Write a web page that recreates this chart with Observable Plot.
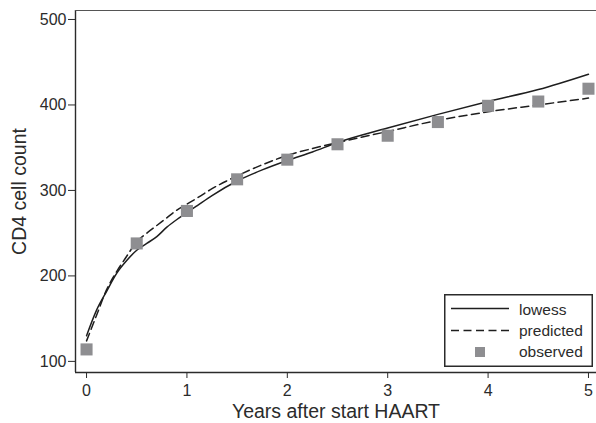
<!DOCTYPE html>
<html><head><meta charset="utf-8">
<script src="https://cdn.jsdelivr.net/npm/d3@7"></script>
<script src="https://cdn.jsdelivr.net/npm/@observablehq/plot@0.6"></script>
<style>
body{margin:0;background:#fff;}
#wrap{position:relative;width:596px;height:423px;overflow:hidden;}
#legend{position:absolute;left:444px;top:294px;}
</style></head><body><div id="wrap"></div>
<script>
// observed means
const obsYears = [0, 0.5, 1, 1.5, 2, 2.5, 3, 3.5, 4, 4.5, 5];
const obsValues = [114, 238, 276, 313, 336, 354, 364, 380, 399, 404, 419];
// lowess curve
const lowessYears  = [0, 0.1, 0.2, 0.3, 0.4, 0.5, 0.6, 0.7, 0.8, 0.9, 1.0, 1.1, 1.25, 1.5, 1.75, 2.0, 2.25, 2.5, 3.0, 3.5, 4.0, 4.5, 5.0];
const lowessValues = [130, 160, 182, 203, 218, 230, 238, 246, 257, 266, 274, 282, 294, 311, 324, 335, 345, 356, 373, 389, 404, 418, 436];
// predicted curve
const predYears  = [0, 0.1, 0.2, 0.3, 0.4, 0.5, 0.6, 0.7, 0.8, 0.9, 1.0, 1.1, 1.25, 1.5, 1.75, 2.0, 2.25, 2.5, 3.0, 3.5, 4.0, 4.5, 5.0];
const predValues = [124, 154, 184, 205, 223, 240, 250, 259, 268, 277, 284, 291, 302, 317, 330, 341, 349, 356, 369, 382, 392, 400, 408];
const xTicks = [0, 1, 2, 3, 4, 5];
const yTicks = [100, 200, 300, 400, 500];
const xDomain = [-0.11, 5.08];
const yDomain = [87, 510.5];
const xLabel = "Years after start HAART";
const yLabel = "CD4 cell count";
const legendItems = ["lowess", "predicted", "observed"];

const obs = obsYears.map((t, i) => ({t, v: obsValues[i]}));
const low = lowessYears.map((t, i) => ({t, v: lowessValues[i]}));
const pred = predYears.map((t, i) => ({t, v: predValues[i]}));

const ink = "#2b2b2b";
const font = "'Liberation Sans', Arial, sans-serif";

const chart = Plot.plot({
  width: 596, height: 423,
  marginLeft: 75, marginRight: 0, marginTop: 10, marginBottom: 51,
  style: {fontFamily: font, background: "#fff", color: ink},
  x: {domain: xDomain, ticks: xTicks},
  y: {domain: yDomain, ticks: yTicks},
  marks: [
    Plot.axisX({ticks: xTicks, tickFormat: d3.format("d"), tickSize: 6, tickPadding: 6, fontSize: 16, label: null, stroke: ink}),
    Plot.axisY({ticks: yTicks, tickFormat: d3.format("d"), tickSize: 7, tickPadding: 2, fontSize: 16, label: null, stroke: ink}),
    Plot.ruleX([xDomain[0]], {stroke: ink, strokeWidth: 1.4}),
    Plot.ruleY([yDomain[0]], {stroke: ink, strokeWidth: 1.4}),
    Plot.ruleY([yDomain[1]], {stroke: "#555", strokeWidth: 1.2}),
    Plot.line(low, {x: "t", y: "v", stroke: "#1e1e1e", strokeWidth: 1.5, curve: "monotone-x"}),
    Plot.line(pred, {x: "t", y: "v", stroke: "#1e1e1e", strokeWidth: 1.5, strokeDasharray: "8,4.5", curve: "monotone-x"}),
    Plot.dot(obs, {x: "t", y: "v", symbol: "square", r: 6.8, fill: "#8e8e91", stroke: "none"}),
    Plot.text([xLabel], {frameAnchor: "bottom", textAnchor: "middle", lineAnchor: "bottom", dy: 45, fontSize: 19.5, fill: ink}),
    Plot.text([yLabel], {frameAnchor: "left", textAnchor: "middle", lineAnchor: "middle", dx: -56, rotate: -90, fontSize: 19.5, fill: ink})
  ]
});
const wrap = document.getElementById("wrap");
wrap.appendChild(chart);

// legend
const ns = "http://www.w3.org/2000/svg";
const lg = document.createElementNS(ns, "svg");
lg.setAttribute("id", "legend");
lg.setAttribute("width", 149); lg.setAttribute("height", 73);
lg.innerHTML = `
<rect x="0.75" y="0.75" width="147.5" height="71.5" fill="#fff" stroke="${ink}" stroke-width="1.5"/>
<line x1="7" x2="65" y1="14.5" y2="14.5" stroke="#1e1e1e" stroke-width="1.5"/>
<line x1="7" x2="65" y1="36.5" y2="36.5" stroke="#1e1e1e" stroke-width="1.5" stroke-dasharray="8,4.5"/>
<rect x="31" y="53" width="10" height="10" fill="#8e8e91"/>
<g font-family="${font}" font-size="15.5" fill="${ink}">
<text x="75" y="21">${legendItems[0]}</text>
<text x="75" y="42">${legendItems[1]}</text>
<text x="75" y="63">${legendItems[2]}</text>
</g>`;
wrap.appendChild(lg);
</script>
</body></html>
